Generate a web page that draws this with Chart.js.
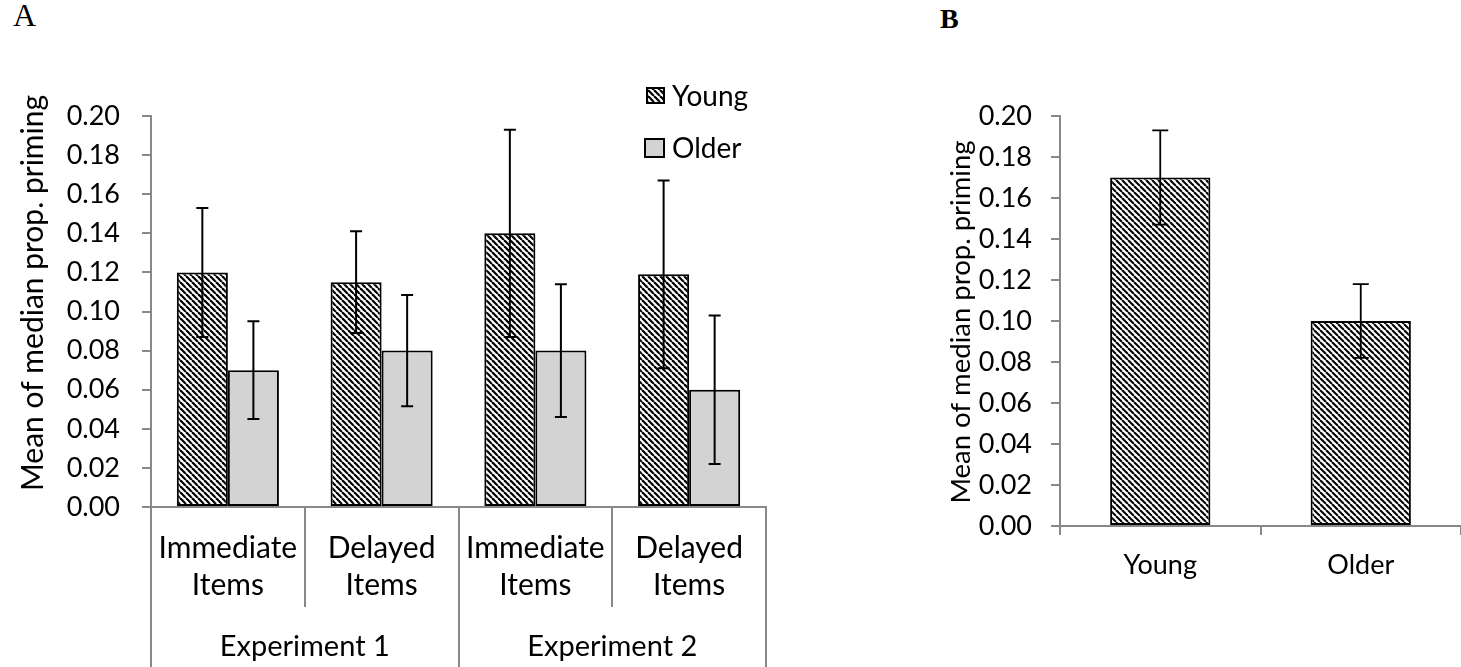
<!DOCTYPE html>
<html>
<head>
<meta charset="utf-8">
<script src="https://cdn.jsdelivr.net/npm/chart.js@4.4.1/dist/chart.umd.min.js"></script>
<style>
  html, body { margin: 0; padding: 0; background: #fff; width: 1461px; height: 667px; overflow: hidden; }
  .panel { position: absolute; top: 0; }
  .tag { position: absolute; font-family: "Liberation Serif", "Times New Roman", serif; color: #000; line-height: 1; }
</style>
</head>
<body>
<div class="tag" style="left:13px;top:-1px;font-size:32px">A</div>
<div class="tag" style="left:940px;top:5px;font-size:28px;font-weight:bold">B</div>
<canvas id="chartA" class="panel" style="left:0" width="790" height="667"></canvas>
<canvas id="chartB" class="panel" style="left:900px" width="561" height="667"></canvas>
<script>
// panel A data
var itemLabels = [['Immediate', 'Items'], ['Delayed', 'Items'], ['Immediate', 'Items'], ['Delayed', 'Items']];
var experimentLabels = ['Experiment 1', 'Experiment 2'];
var youngA = [0.120, 0.115, 0.140, 0.119];
var youngErrA = [0.033, 0.026, 0.053, 0.048];
var olderA = [0.070, 0.080, 0.080, 0.060];
var olderErrA = [0.025, 0.0285, 0.034, 0.038];

// panel B data
var ageLabels = ['Young', 'Older'];
var meansB = [0.170, 0.100];
var errB = [0.023, 0.018];

var yMin = 0, yMax = 0.20, yStep = 0.02;
var yTitle = 'Mean of median prop. priming';

var GRAY = '#888888';
var FONT = 'Lato, "Open Sans", sans-serif';

function hatch(size, width) {
  var c = document.createElement('canvas');
  c.width = c.height = size;
  var g = c.getContext('2d');
  g.fillStyle = '#fff';
  g.fillRect(0, 0, size, size);
  g.strokeStyle = '#000';
  g.lineWidth = width;
  for (var k = -1; k <= 1; k++) {
    g.beginPath();
    g.moveTo(k * size, 0);
    g.lineTo(k * size + size, size);
    g.stroke();
  }
  return g.createPattern(c, 'repeat');
}

var errorBars = {
  id: 'errorBars',
  afterDatasetsDraw: function (chart, args, opts) {
    var ctx = chart.ctx, y = chart.scales.y;
    chart.data.datasets.forEach(function (ds, di) {
      chart.getDatasetMeta(di).data.forEach(function (bar, i) {
        var top = y.getPixelForValue(ds.data[i] + ds.errors[i]);
        var bot = y.getPixelForValue(ds.data[i] - ds.errors[i]);
        ctx.save();
        ctx.strokeStyle = '#000';
        ctx.lineWidth = opts.width;
        ctx.beginPath();
        ctx.moveTo(bar.x, top); ctx.lineTo(bar.x, bot);
        ctx.moveTo(bar.x - opts.cap, top); ctx.lineTo(bar.x + opts.cap, top);
        ctx.moveTo(bar.x - opts.cap, bot); ctx.lineTo(bar.x + opts.cap, bot);
        ctx.stroke();
        ctx.restore();
      });
    });
  }
};

var sideTitle = {
  id: 'sideTitle',
  afterDraw: function (chart, args, opts) {
    var ctx = chart.ctx;
    ctx.save();
    ctx.translate(opts.x, opts.y);
    ctx.rotate(-Math.PI / 2);
    ctx.font = opts.size + 'px ' + FONT;
    ctx.fillStyle = '#000';
    ctx.textAlign = 'center';
    ctx.textBaseline = 'middle';
    ctx.fillText(opts.text, 0, 0);
    ctx.restore();
  }
};

// separators, experiment labels and legend for panel A
var panelA = {
  id: 'panelA',
  afterDraw: function (chart) {
    var ctx = chart.ctx, xs = chart.scales.x;
    var step = xs.width / itemLabels.length;
    ctx.save();
    ctx.strokeStyle = GRAY;
    ctx.lineWidth = 2;
    for (var i = 0; i <= itemLabels.length; i++) {
      var x = Math.round(xs.left + i * step);
      ctx.beginPath();
      ctx.moveTo(x, xs.top);
      ctx.lineTo(x, i % 2 === 0 ? chart.height : xs.top + 100);
      ctx.stroke();
    }
    ctx.font = '29px ' + FONT;
    ctx.fillStyle = '#000';
    ctx.textAlign = 'center';
    ctx.textBaseline = 'middle';
    experimentLabels.forEach(function (t, j) {
      ctx.fillText(t, xs.left + (2 * j + 1) * step, xs.top + 140);
    });
    // legend
    ctx.font = '28px ' + FONT;
    var rows = [[88, 17, 15, 647], [139, 19, 18, 645]];
    chart.data.datasets.forEach(function (ds, di) {
      var r = rows[di];
      ctx.fillStyle = ds.backgroundColor;
      ctx.fillRect(r[3], r[0], r[1], r[2]);
      ctx.strokeStyle = '#000';
      ctx.lineWidth = 2;
      ctx.strokeRect(r[3], r[0], r[1], r[2]);
      ctx.fillStyle = '#000';
      ctx.textAlign = 'left';
      ctx.fillText(ds.label, 672, r[0] + r[2] / 2 + 1);
    });
    ctx.restore();
  }
};

function yAxis(width, pad) {
  return {
    min: yMin, max: yMax,
    afterFit: function (s) { s.width = width; },
    ticks: { stepSize: yStep, padding: pad, color: '#000',
      font: { size: 27 },
      callback: function (v) { return v.toFixed(2); } },
    grid: { drawOnChartArea: false, color: GRAY, lineWidth: 2, tickLength: 9 },
    border: { color: GRAY, width: 2 }
  };
}

function draw() {
  Chart.defaults.font.family = FONT;
  Chart.defaults.color = '#000';

  new Chart(document.getElementById('chartA'), {
    type: 'bar',
    data: {
      labels: itemLabels,
      datasets: [
        { label: 'Young', data: youngA, errors: youngErrA, backgroundColor: hatch(6, 2.2),
          borderColor: '#000', borderWidth: 2, borderSkipped: false },
        { label: 'Older', data: olderA, errors: olderErrA, backgroundColor: '#d3d3d3',
          borderColor: '#000', borderWidth: 2, borderSkipped: false }
      ]
    },
    options: {
      responsive: false,
      animation: false,
      devicePixelRatio: 1,
      layout: { padding: { top: 116, right: 24, left: 0, bottom: 0 } },
      plugins: {
        legend: { display: false },
        tooltip: { enabled: false },
        errorBars: { width: 2, cap: 6 },
        sideTitle: { text: yTitle, x: 33, y: 293, size: 30 }
      },
      scales: {
        x: {
          afterFit: function (s) { s.height = 160; },
          ticks: { padding: 15, font: { size: 30, lineHeight: 1.233 }, maxRotation: 0, autoSkip: false },
          grid: { display: false },
          border: { color: GRAY, width: 2 }
        },
        y: yAxis(151, 22)
      },
      datasets: { bar: { categoryPercentage: 0.664, barPercentage: 1 } }
    },
    plugins: [errorBars, sideTitle, panelA]
  });

  new Chart(document.getElementById('chartB'), {
    type: 'bar',
    data: {
      labels: ageLabels,
      datasets: [
        { label: 'Mean', data: meansB, errors: errB, backgroundColor: hatch(6, 2),
          borderColor: '#000', borderWidth: 2, borderSkipped: false }
      ]
    },
    options: {
      responsive: false,
      animation: false,
      devicePixelRatio: 1,
      layout: { padding: { top: 116, right: 0, left: 0, bottom: 0 } },
      plugins: {
        legend: { display: false },
        tooltip: { enabled: false },
        errorBars: { width: 1.8, cap: 8 },
        sideTitle: { text: yTitle, x: 61, y: 322, size: 27.5 }
      },
      scales: {
        x: {
          afterFit: function (s) { s.height = 141; },
          ticks: { padding: 14, font: { size: 27 } },
          grid: { offset: true, drawOnChartArea: false, color: GRAY, lineWidth: 2, tickLength: 9 },
          border: { color: GRAY, width: 2 }
        },
        y: yAxis(160, 19)
      },
      datasets: { bar: { categoryPercentage: 0.5, barPercentage: 1 } }
    },
    plugins: [errorBars, sideTitle]
  });
}

if (document.fonts && document.fonts.load) {
  document.fonts.load('27px Lato').then(draw, draw);
} else {
  draw();
}
</script>
</body>
</html>
